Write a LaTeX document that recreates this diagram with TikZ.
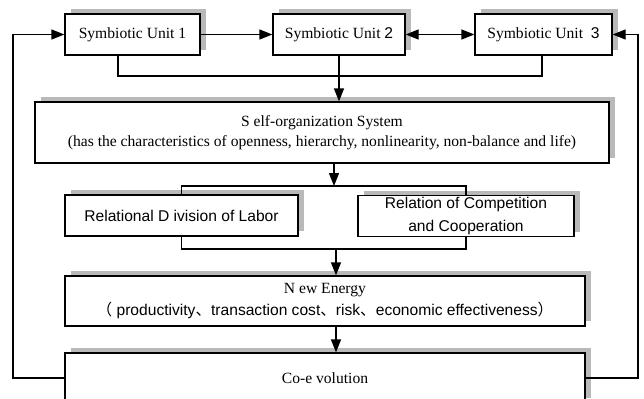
\documentclass[tikz,border=0pt]{standalone}
\usepackage{fontspec}
\setmainfont{Liberation Serif}
\setsansfont{Liberation Sans}
\newfontfamily\cjk{Noto Sans CJK SC}
\usetikzlibrary{arrows.meta,shadows}
\tikzset{
  unitbox/.style={draw, line width=0.6pt, fill=white, inner sep=0pt, align=center,
    general shadow={fill=gray!55, shadow xshift=3pt, shadow yshift=2.5pt}},
  arr/.style={-{Triangle[length=6.5pt,width=5pt]}},
}
\begin{document}
\begin{tikzpicture}[x=0.5pt,y=-0.5pt,line width=0.6pt,font=\fontsize{7.8}{10}\selectfont]
\clip (0,0) rectangle (644,398);
% units
\node[unitbox, minimum width=67.5pt, minimum height=20.5pt] (u1) at (132.5,34.5) {Symbiotic Unit 1};
\node[unitbox, minimum width=66pt, minimum height=20.5pt] (u2) at (339,34.5) {Symbiotic Unit {\sffamily 2}};
\node[unitbox, minimum width=68.5pt, minimum height=20.5pt] (u3) at (543.5,34.5) {Symbiotic Unit\ \ {\sffamily 3}};
%
\node[unitbox, minimum width=287pt, minimum height=30.5pt] (sos) at (322,132.5)
  {S elf-organization System\\(has the characteristics of openness, hierarchy, nonlinearity, non-balance and life)};
%
\node[unitbox, minimum width=116.5pt, minimum height=20.5pt, font=\sffamily\fontsize{7.8}{11.5}\selectfont] (div) at (181.5,215.5)
  {Relational D ivision of Labor};
\node[unitbox, minimum width=108pt, minimum height=20.5pt, font=\sffamily\fontsize{7.8}{11.5}\selectfont] (comp) at (466,216)
  {Relation of Competition\\and Cooperation};
%
\node[unitbox, minimum width=260pt, minimum height=25pt, font=\fontsize{7.8}{11}\selectfont] (ne) at (325,301)
  {N ew Energy\\{\sffamily\fontsize{7.8}{11}\selectfont{\cjk （}\ productivity{\cjk 、}transaction cost{\cjk 、}risk{\cjk 、}economic effectiveness{\cjk ）}}};
\node[unitbox, minimum width=260pt, minimum height=25pt] (coev) at (325,378) {Co-e volution};
%
\coordinate (lloop) at (13,0);
\coordinate (rloop) at (638,0);
\coordinate (j1) at (118,76);
\coordinate (j3) at (542,76);
\coordinate (split) at (334,186);
\coordinate (merge) at (336,249);
% arrows between units
\draw[arr] (u1) -- (u2);
\draw[{Triangle[length=6.5pt,width=5pt]}-{Triangle[length=6.5pt,width=5pt]}] (u2) -- (u3);
\draw (j1 |- u1.south) -- (j1) -- (j3) -- (j3 |- u3.south);
\draw[arr] (u2.south) -- (u2.south |- sos.north);
%
\draw[arr] (split |- sos.south) -- (split);
\draw (div.north) |- (split) -| (comp.north);
\draw (div.south) |- (merge) -| (comp.south);
\draw[arr] (merge) -- (merge |- ne.north);
\draw[arr] (ne.south -| merge) -- (coev.north -| merge);
% feedback loops
\draw[arr] (coev.west) -- (coev.west -| lloop) |- (u1.west);
\draw[arr] (coev.east) -- (coev.east -| rloop) |- (u3.east);
\end{tikzpicture}
\end{document}
